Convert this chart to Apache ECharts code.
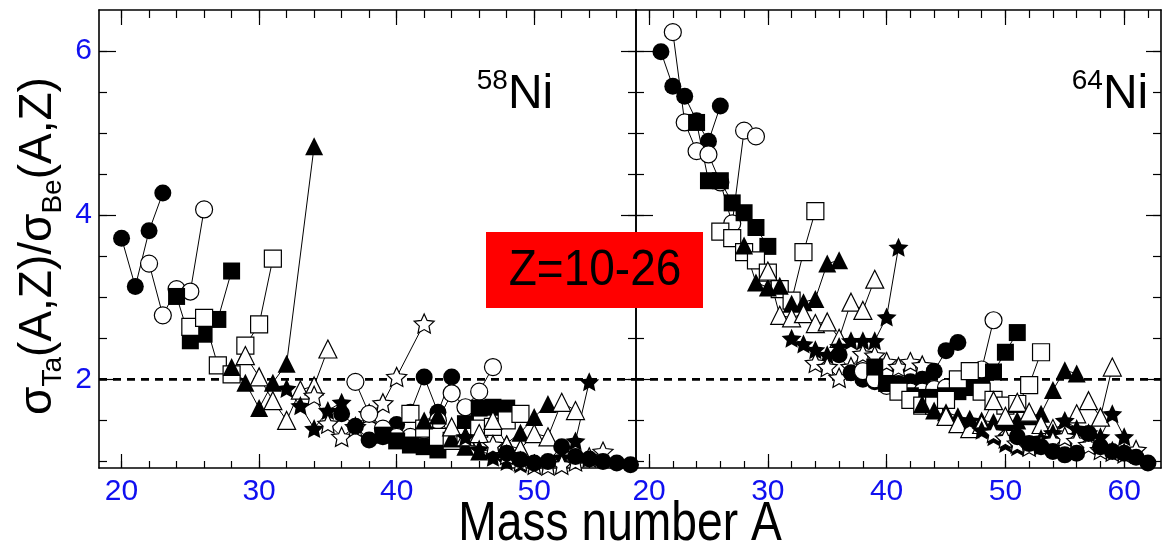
<!DOCTYPE html>
<html>
<head>
<meta charset="utf-8">
<script src="https://cdn.jsdelivr.net/npm/echarts@6/dist/echarts.min.js"></script>
<style>
  html, body { margin: 0; padding: 0; background: #fff; }
  #plot { width: 1162px; height: 551px; }
</style>
</head>
<body>
<div id="plot"></div>
<script>
// 58Ni 数据：每个 Z 一条同位素链 [A, 比值]
var n58z10 = [[20, 3.72], [21, 3.13], [22, 3.81], [23, 4.27]];
var n58z11 = [[22, 3.41], [23, 2.78], [24, 3.1], [25, 3.07], [26, 4.07]];
var n58z12 = [[24, 3.01], [25, 2.47], [26, 2.55], [27, 2.73], [28, 3.32]];
var n58z13 = [[25, 2.64], [26, 2.75], [27, 2.17], [28, 2.06], [29, 2.41], [30, 2.67], [31, 3.47]];
var n58z14 = [[28, 2.15], [29, 1.96], [30, 1.65], [31, 1.96], [32, 2.19], [34, 4.84]];
var n58z15 = [[29, 2.29], [30, 2.03], [31, 1.74], [32, 1.5], [33, 1.87], [34, 1.92], [35, 2.37]];
var n58z16 = [[32, 1.89], [33, 1.68], [34, 1.4], [35, 1.62], [36, 1.72]];
var n58z17 = [[34, 1.8], [35, 1.46], [36, 1.3], [37, 1.42], [38, 1.58], [39, 1.71], [40, 2.03], [42, 2.68]];
var n58z18 = [[36, 1.58], [37, 1.43], [38, 1.26], [39, 1.3], [40, 1.45], [41, 1.6], [42, 2.03], [43, 1.6], [44, 2.03]];
var n58z19 = [[37, 1.97], [38, 1.58], [39, 1.4], [40, 1.3], [41, 1.3], [42, 1.38], [43, 1.5], [44, 1.83], [45, 1.66], [46, 1.85], [47, 2.15]];
var n58z20 = [[39, 1.32], [40, 1.25], [41, 1.2], [42, 1.18], [43, 1.14], [44, 1.3], [45, 1.46], [46, 1.65], [47, 1.66], [48, 1.65]];
var n58z21 = [[41, 1.58], [42, 1.4], [43, 1.3], [44, 1.25], [45, 1.3], [46, 1.4], [47, 1.42], [48, 1.5], [49, 1.58]];
var n58z22 = [[42, 1.5], [43, 1.56], [44, 1.28], [45, 1.18], [46, 1.12], [47, 1.15], [48, 1.22], [49, 1.35], [50, 1.54], [51, 1.7]];
var n58z23 = [[44, 1.42], [45, 1.3], [46, 1.34], [47, 1.5], [48, 1.2], [49, 1.15], [50, 1.34], [51, 1.3], [52, 1.72], [53, 1.62]];
var n58z24 = [[45, 1.3], [46, 1.15], [47, 1.05], [48, 1.0], [49, 0.97], [50, 0.96], [51, 0.98], [52, 1.05], [53, 1.25], [54, 1.97]];
var n58z25 = [[47, 1.2], [48, 1.08], [49, 1.0], [50, 0.96], [51, 0.95], [52, 0.96], [53, 1.0], [54, 1.05], [55, 1.12]];
var n58z26 = [[48, 1.1], [49, 1.02], [50, 0.98], [51, 1.0], [52, 1.18], [53, 1.06], [54, 1.03], [55, 1.0], [56, 0.98], [57, 0.96]];

// 64Ni 数据
var n64z10 = [[21, 5.99], [22, 5.57], [23, 5.45], [24, 5.15], [25, 4.9], [26, 5.33]];
var n64z11 = [[22, 6.23], [23, 5.13], [24, 4.78], [25, 4.74], [26, 4.4], [27, 3.9], [28, 5.03], [29, 4.96]];
var n64z12 = [[24, 5.13], [25, 4.42], [26, 4.42], [27, 4.15], [28, 4.03], [29, 3.85], [30, 3.62]];
var n64z13 = [[26, 3.8], [27, 3.72], [28, 3.55], [29, 3.45], [30, 3.3], [31, 3.1], [32, 2.96], [33, 3.55], [34, 4.05]];
var n64z14 = [[28, 3.63], [29, 3.18], [30, 3.12], [31, 3.14], [32, 2.92], [33, 2.94], [34, 2.98], [35, 3.41], [36, 3.45]];
var n64z15 = [[30, 3.32], [31, 2.78], [32, 2.75], [33, 2.8], [34, 2.68], [35, 2.7], [36, 2.5], [37, 2.94], [38, 2.84], [39, 3.22]];
var n64z16 = [[32, 2.5], [33, 2.43], [34, 2.36], [35, 2.3], [36, 2.4], [37, 2.47], [38, 2.47], [39, 2.47], [40, 2.76], [41, 3.61]];
var n64z17 = [[34, 2.2], [35, 2.15], [36, 2.02], [37, 2.15], [38, 2.31], [39, 2.29], [40, 2.21], [41, 2.15], [42, 2.21], [43, 2.17]];
var n64z18 = [[36, 2.3], [37, 2.08], [38, 2.0], [39, 1.97], [40, 1.95], [41, 1.95], [42, 1.97], [43, 2.0], [44, 2.1], [45, 2.35], [46, 2.45]];
var n64z19 = [[38, 2.1], [39, 2.0], [40, 1.92], [41, 1.88], [42, 1.85], [43, 1.85], [44, 1.88], [45, 1.9], [46, 1.95], [47, 2.0], [48, 2.12], [49, 2.72]];
var n64z20 = [[39, 2.15], [40, 1.95], [41, 1.88], [42, 1.8], [43, 1.78], [44, 1.78], [45, 1.8], [46, 1.85], [47, 1.9], [48, 1.92], [49, 2.09], [50, 2.33], [51, 2.57]];
var n64z21 = [[41, 1.85], [42, 1.75], [43, 1.68], [44, 1.68], [45, 1.75], [46, 2.0], [47, 2.1], [48, 1.85], [49, 1.75], [50, 1.68], [51, 1.7], [52, 1.93], [53, 2.33]];
var n64z22 = [[43, 1.7], [44, 1.62], [45, 1.6], [46, 1.55], [47, 1.52], [48, 1.5], [49, 1.48], [50, 1.48], [51, 1.5], [52, 1.55], [53, 1.58], [54, 1.87], [55, 2.11], [56, 2.07]];
var n64z23 = [[45, 1.55], [46, 1.46], [47, 1.4], [48, 1.45], [49, 1.74], [50, 1.55], [51, 1.72], [52, 1.6], [53, 1.45], [54, 1.4], [55, 1.45], [56, 1.58], [57, 1.74], [58, 1.54], [59, 2.15]];
var n64z24 = [[47, 1.5], [48, 1.38], [49, 1.3], [50, 1.22], [51, 1.18], [52, 1.2], [53, 1.28], [54, 1.35], [55, 1.5], [56, 1.4], [57, 1.35], [58, 1.3], [59, 1.58], [60, 1.3]];
var n64z25 = [[49, 1.35], [50, 1.28], [51, 1.22], [52, 1.18], [53, 1.2], [54, 1.25], [55, 1.3], [56, 1.25], [57, 1.2], [58, 1.14], [59, 1.12], [60, 1.1], [61, 1.14]];
var n64z26 = [[51, 1.3], [52, 1.22], [53, 1.18], [54, 1.12], [55, 1.08], [56, 1.1], [57, 1.34], [58, 1.18], [59, 1.12], [60, 1.1], [61, 1.05], [62, 0.98]];

var chains58 = [n58z10, n58z11, n58z12, n58z13, n58z14, n58z15, n58z16, n58z17, n58z18,
  n58z19, n58z20, n58z21, n58z22, n58z23, n58z24, n58z25, n58z26];
var chains64 = [n64z10, n64z11, n64z12, n64z13, n64z14, n64z15, n64z16, n64z17, n64z18,
  n64z19, n64z20, n64z21, n64z22, n64z23, n64z24, n64z25, n64z26];

// 刻度
var xMajor = [20, 30, 40, 50, 60];
var xMinor = [20, 22, 24, 26, 28, 30, 32, 34, 36, 38, 40, 42, 44, 46, 48, 50, 52, 54, 56, 58, 60, 62];
var yMajor = [2, 4, 6];
var yMinor = [1, 1.5, 2, 2.5, 3, 3.5, 4, 4.5, 5, 5.5, 6];
var xRange = [[18.36, 57.4], [18.9, 63.1]];
var yRange = [0.92, 6.5];
var refLine = 2;

var STAR = 'path://M0,-10L2.82,-3.88L9.51,-3.09L4.57,1.48L5.88,8.09L0,4.8L-5.88,8.09L-4.57,1.48L-9.51,-3.09L-2.82,-3.88Z';
var SHAPES = ['circle', 'circle', 'rect', 'rect', 'triangle', 'triangle', STAR, STAR];
var SIZES = [17, 17, 17, 17, 18, 18, 20, 20];
var BLUE = '#1010f0';
var FONT = 'Liberation Sans, Arial, sans-serif';

var myChart = echarts.init(document.getElementById('plot'));

function inRange(vals, r) {
  return vals.filter(function (v) { return v > r[0] && v < r[1]; });
}

// 每个面板 4 条 x 轴：下（小刻度+标签）、下（大刻度）、上（小刻度）、上（大刻度）
function makeX(g) {
  var r = xRange[g];
  var base = { gridIndex: g, type: 'value', min: r[0], max: r[1], splitLine: { show: false } };
  var line = { show: true, lineStyle: { color: '#000', width: 1.6 } };
  return [
    Object.assign({}, base, {
      position: 'bottom', axisLine: line,
      axisTick: { show: true, inside: true, length: 7, customValues: inRange(xMinor, r), lineStyle: { color: '#000', width: 1.2 } },
      axisLabel: { show: true, customValues: inRange(xMajor, r), color: BLUE, fontSize: 30, fontFamily: FONT, margin: 9 }
    }),
    Object.assign({}, base, {
      position: 'bottom', axisLine: { show: false },
      axisTick: { show: true, inside: true, length: 14, customValues: inRange(xMajor, r), lineStyle: { color: '#000', width: 1.2 } },
      axisLabel: { show: false }
    }),
    Object.assign({}, base, {
      position: 'top', axisLine: line,
      axisTick: { show: true, inside: true, length: 8, customValues: inRange(xMinor, r), lineStyle: { color: '#000', width: 1.2 } },
      axisLabel: { show: false }
    }),
    Object.assign({}, base, {
      position: 'top', axisLine: { show: false },
      axisTick: { show: true, inside: true, length: 15, customValues: inRange(xMajor, r), lineStyle: { color: '#000', width: 1.2 } },
      axisLabel: { show: false }
    })
  ];
}

function makeY(g) {
  var base = { gridIndex: g, type: 'value', min: yRange[0], max: yRange[1], splitLine: { show: false } };
  var line = { show: true, lineStyle: { color: '#000', width: 1.6 } };
  return [
    Object.assign({}, base, {
      position: 'left', axisLine: line,
      axisTick: { show: true, inside: true, length: 8, customValues: yMinor, lineStyle: { color: '#000', width: 1.2 } },
      axisLabel: { show: g === 0, customValues: yMajor, color: BLUE, fontSize: 30, fontFamily: FONT, margin: 7 }
    }),
    Object.assign({}, base, {
      position: 'left', axisLine: { show: false },
      axisTick: { show: true, inside: true, length: 17, customValues: yMajor, lineStyle: { color: '#000', width: 1.2 } },
      axisLabel: { show: false }
    }),
    Object.assign({}, base, {
      position: 'right', axisLine: line,
      axisTick: { show: true, inside: true, length: 8, customValues: yMinor, lineStyle: { color: '#000', width: 1.2 } },
      axisLabel: { show: false }
    }),
    Object.assign({}, base, {
      position: 'right', axisLine: { show: false },
      axisTick: { show: true, inside: true, length: 15, customValues: yMajor, lineStyle: { color: '#000', width: 1.2 } },
      axisLabel: { show: false }
    })
  ];
}

function chainSeries(data, z, g) {
  var k = (z - 10) % 8;
  var filled = k % 2 === 0;
  return {
    type: 'line',
    xAxisIndex: g * 4,
    yAxisIndex: g * 4,
    data: data,
    symbol: SHAPES[k],
    symbolSize: SIZES[k],
    symbolKeepAspect: true,
    showSymbol: true,
    animation: false,
    silent: true,
    z: 3,
    lineStyle: { color: '#000', width: 1 },
    itemStyle: { color: filled ? '#000' : '#fff', borderColor: '#000', borderWidth: filled ? 0 : 1.2 }
  };
}

var series = [];
[0, 1].forEach(function (g) {
  series.push({
    type: 'line', xAxisIndex: g * 4, yAxisIndex: g * 4,
    data: [[xRange[g][0], refLine], [xRange[g][1], refLine]],
    symbol: 'none', silent: true, animation: false, z: 2,
    lineStyle: { color: '#000', width: 2.6, type: [8, 6] }
  });
});
chains58.forEach(function (d, i) { series.push(chainSeries(d, 10 + i, 0)); });
chains64.forEach(function (d, i) { series.push(chainSeries(d, 10 + i, 1)); });

var option = {
  backgroundColor: '#fff',
  animation: false,
  grid: [
    { left: 99, top: 10, width: 537, height: 458, outerBoundsMode: 'none' },
    { left: 636, top: 10, width: 525, height: 458, outerBoundsMode: 'none' }
  ],
  xAxis: makeX(0).concat(makeX(1)),
  yAxis: makeY(0).concat(makeY(1)),
  series: series,
  graphic: [
    { type: 'rect', z: 100, shape: { x: 486, y: 232, width: 217, height: 76 }, style: { fill: '#ff0000' } },
    { type: 'text', z: 101, x: 595, y: 271, scaleX: 0.92,
      style: { text: 'Z=10-26', fill: '#000', fontSize: 50, fontFamily: 'Liberation Sans', align: 'center', verticalAlign: 'middle' } },
    { type: 'text', z: 101, x: 515, y: 92,
      style: { text: '{s|58}{n|Ni}', align: 'center', verticalAlign: 'middle',
        rich: { s: { fontSize: 28, fontFamily: 'Liberation Sans', fill: '#000', verticalAlign: 'top', lineHeight: 30 },
                n: { fontSize: 48, fontFamily: 'Liberation Sans', fill: '#000', verticalAlign: 'top', lineHeight: 50, padding: [4, 0, 0, 0] } } } },
    { type: 'text', z: 101, x: 1110, y: 92,
      style: { text: '{s|64}{n|Ni}', align: 'center', verticalAlign: 'middle',
        rich: { s: { fontSize: 28, fontFamily: 'Liberation Sans', fill: '#000', verticalAlign: 'top', lineHeight: 30 },
                n: { fontSize: 48, fontFamily: 'Liberation Sans', fill: '#000', verticalAlign: 'top', lineHeight: 50, padding: [4, 0, 0, 0] } } } },
    { type: 'text', z: 101, x: 620, y: 525, scaleX: 0.84,
      style: { text: 'Mass number A', fill: '#000', fontSize: 55, fontFamily: 'Liberation Sans', align: 'center', verticalAlign: 'middle' } },
    { type: 'text', z: 101, x: 38, y: 246, rotation: Math.PI / 2,
      style: { text: '{m|σ}{s|Ta}{m|(A,Z)/σ}{s|Be}{m|(A,Z)}', align: 'center', verticalAlign: 'middle',
        rich: { m: { fontSize: 46, fontFamily: 'Liberation Sans', fill: '#000', verticalAlign: 'top', lineHeight: 46 },
                s: { fontSize: 28, fontFamily: 'Liberation Sans', fill: '#000', verticalAlign: 'top', lineHeight: 28, padding: [24, 0, 0, 0] } } } }
  ]
};

myChart.setOption(option);
</script>
</body>
</html>
